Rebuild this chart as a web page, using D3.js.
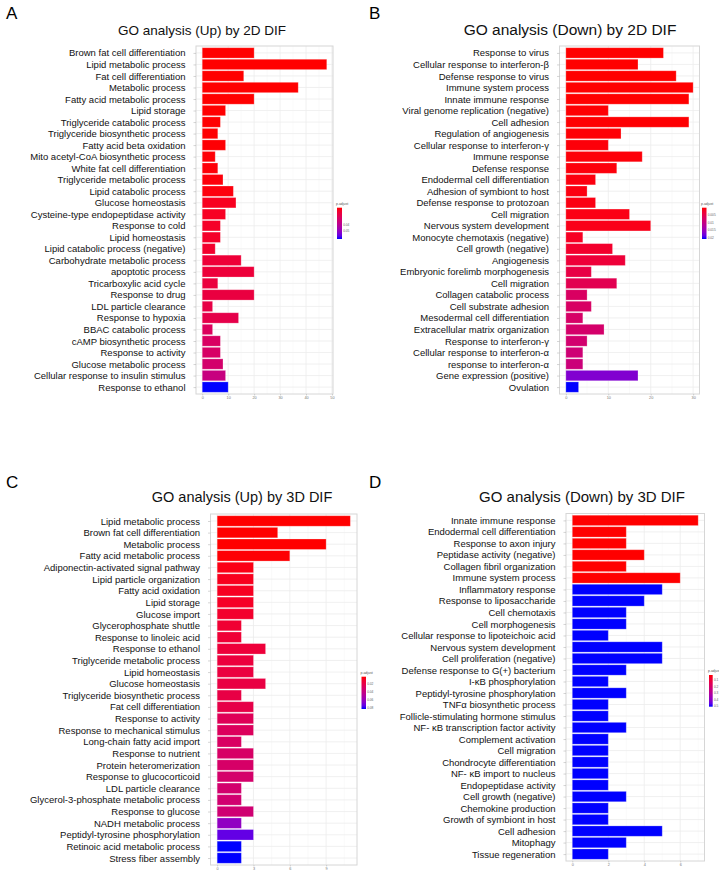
<!DOCTYPE html>
<html>
<head>
<meta charset="utf-8">
<script src="https://cdn.jsdelivr.net/npm/d3@7"></script>
<style>
  body { margin: 0; background: #fff; }
  svg { font-family: "Liberation Sans", Arial, sans-serif; }
</style>
</head>
<body>
<div id="canvas"></div>
<script>
// ---- data ----
const termsA = ["Brown fat cell differentiation", "Lipid metabolic process", "Fat cell differentiation", "Metabolic process",
  "Fatty acid metabolic process", "Lipid storage", "Triglyceride catabolic process", "Triglyceride biosynthetic process",
  "Fatty acid beta oxidation", "Mito acetyl-CoA biosynthetic process", "White fat cell differentiation",
  "Triglyceride metabolic process", "Lipid catabolic process", "Glucose homeostasis", "Cysteine-type endopeptidase activity",
  "Response to cold", "Lipid homeostasis", "Lipid catabolic process (negative)", "Carbohydrate metabolic process",
  "apoptotic process", "Tricarboxylic acid cycle", "Response to drug", "LDL particle clearance", "Response to hypoxia",
  "BBAC catabolic process", "cAMP biosynthetic process", "Response to activity", "Glucose metabolic process",
  "Cellular response to insulin stimulus", "Response to ethanol"];
const countsA = [20, 48, 16, 37, 20, 9, 7, 6, 9, 5, 6, 8, 12, 13, 9, 7, 7, 5, 15, 20, 6, 20, 4, 14, 4, 7, 7, 8, 9, 10];
const padjA = [0.0070, 0.0070, 0.0070, 0.0070, 0.0070, 0.0071, 0.0072, 0.0073, 0.0074, 0.0076, 0.0078, 0.0080, 0.0083,
  0.0110, 0.0115, 0.0125, 0.0130, 0.0135, 0.0160, 0.0165, 0.0175, 0.0180, 0.0195, 0.0205, 0.0250, 0.0265, 0.0275,
  0.0290, 0.0340, 0.0660];
const legendTicksA = [0.04, 0.05];

const termsB = ["Response to virus", "Cellular response to interferon-β", "Defense response to virus", "Immune system process",
  "Innate immune response", "Viral genome replication (negative)", "Cell adhesion", "Regulation of angiogenesis",
  "Cellular response to interferon-γ", "Immune response", "Defense response", "Endodermal cell differentiation",
  "Adhesion of symbiont to host", "Defense response to protozoan", "Cell migration ", "Nervous system development",
  "Monocyte chemotaxis (negative)", "Cell growth (negative)", "Angiogenesis", "Embryonic forelimb morphogenesis",
  "Cell migration", "Collagen catabolic process", "Cell substrate adhesion", "Mesodermal cell differentiation",
  "Extracellular matrix organization", "Response to interferon-γ", "Cellular response to interferon-α",
  "response to interferon-α", "Gene expression (positive)", "Ovulation"];
const countsB = [23, 17, 26, 30, 29, 10, 29, 13, 10, 18, 12, 7, 5, 7, 15, 20, 4, 11, 14, 6, 12, 5, 6, 4, 9, 5, 4, 4, 17, 3];
const padjB = [0.0002, 0.0002, 0.0002, 0.0002, 0.0002, 0.0003, 0.0003, 0.0004, 0.0005, 0.0005, 0.0006, 0.0007, 0.0008,
  0.0009, 0.0010, 0.0012, 0.0018, 0.0025, 0.0035, 0.0045, 0.0055, 0.0070, 0.0072, 0.0075, 0.0078, 0.0082, 0.0088,
  0.0092, 0.0170, 0.0210];
const legendTicksB = [0.005, 0.010, 0.015, 0.020];

const termsC = ["Lipid metabolic process", "Brown fat cell differentiation", "Metabolic process", "Fatty acid metabolic process",
  "Adiponectin-activated signal pathway", "Lipid particle organization", "Fatty acid oxidation", "Lipid storage",
  "Glucose import", "Glycerophosphate shuttle", "Response to linoleic acid", "Response to ethanol",
  "Triglyceride metabolic process", "Lipid homeostasis", "Glucose homeostasis", "Triglyceride biosynthetic process",
  "Fat cell differentiation", "Response to activity", "Response to mechanical stimulus", "Long-chain fatty acid import",
  "Response to nutrient", "Protein heteromerization", "Response to glucocorticoid", "LDL particle clearance",
  "Glycerol-3-phosphate metabolic process", "Response to glucose", "NADH metabolic process",
  "Peptidyl-tyrosine phosphorylation", "Retinoic acid metabolic process", "Stress fiber assembly"];
const countsC = [11, 5, 9, 6, 3, 3, 3, 3, 3, 2, 2, 4, 3, 3, 4, 2, 3, 3, 3, 2, 3, 3, 3, 2, 2, 3, 2, 3, 2, 2];
const padjC = [0.0020, 0.0020, 0.0020, 0.0025, 0.0050, 0.0070, 0.0080, 0.0090, 0.0110, 0.0130, 0.0140, 0.0150, 0.0160,
  0.0170, 0.0180, 0.0190, 0.0200, 0.0250, 0.0270, 0.0290, 0.0300, 0.0310, 0.0320, 0.0330, 0.0340, 0.0350, 0.0630,
  0.0750, 0.0836, 0.0836];
const legendTicksC = [0.02, 0.04, 0.06, 0.08];

const termsD = ["Innate immune response", "Endodermal cell differentiation", "Response to axon injury",
  "Peptidase activity (negative)", "Collagen fibril organization", "Immune system process", "Inflammatory response",
  "Response to liposaccharide", "Cell chemotaxis", "Cell morphogenesis", "Cellular response to lipoteichoic acid",
  "Nervous system development", "Cell proliferation (negative)", "Defense response to G(+) bacterium",
  "I-κB phosphorylation", "Peptidyl-tyrosine phosphorylation", "TNFα biosynthetic process",
  "Follicle-stimulating hormone stimulus", "NF- κB transcription factor activity", "Complement activation",
  "Cell migration", "Chondrocyte differentiation", "NF- κB import to nucleus", "Endopeptidase activity",
  "Cell growth (negative)", "Chemokine production", "Growth of symbiont in host", "Cell adhesion", "Mitophagy",
  "Tissue regeneration"];
const countsD = [7, 3, 3, 4, 3, 6, 5, 4, 3, 3, 2, 5, 5, 3, 2, 3, 2, 2, 3, 2, 2, 2, 2, 2, 3, 2, 2, 5, 3, 2];
const padjD = [0.02, 0.02, 0.02, 0.02, 0.02, 0.02, 0.51, 0.51, 0.51, 0.51, 0.51, 0.51, 0.51,
  0.51, 0.51, 0.51, 0.51, 0.51, 0.51, 0.51, 0.51, 0.51, 0.51, 0.51, 0.51, 0.51, 0.51, 0.51, 0.51, 0.51];
const legendTicksD = [0.1, 0.2, 0.3, 0.4, 0.5];

// ---- layout ----
const panels = [
  { letter: "A", title: "GO analysis (Up) by 2D DIF", terms: termsA, counts: countsA, padj: padjA, ticks: [0, 10, 20, 30, 40, 50],
    legendTicks: legendTicksA, box: { left: 196, right: 333, top: 46, bottom: 394 }, titleX: 202, titleY: 35, titleSize: 13.5,
    letterX: 6, letterY: 19, legend: { x: 337, y: 207.7, w: 5, h: 31.3 } },
  { letter: "B", title: "GO analysis (Down) by 2D DIF", terms: termsB, counts: countsB, padj: padjB, ticks: [0, 10, 20, 30],
    legendTicks: legendTicksB, box: { left: 559.5, right: 699.5, top: 46, bottom: 394 }, titleX: 570, titleY: 35, titleSize: 15.5,
    letterX: 369, letterY: 19, legend: { x: 702, y: 207.7, w: 4.5, h: 31.3 } },
  { letter: "C", title: "GO analysis (Up) by 3D DIF", terms: termsC, counts: countsC, padj: padjC, ticks: [0, 3, 6, 9],
    legendTicks: legendTicksC, box: { left: 210.5, right: 357, top: 514, bottom: 865 }, titleX: 242, titleY: 502, titleSize: 14.5,
    letterX: 6, letterY: 488, legend: { x: 361.5, y: 676.7, w: 4.5, h: 32.3 } },
  { letter: "D", title: "GO analysis (Down) by 3D DIF", terms: termsD, counts: countsD, padj: padjD, ticks: [0, 2, 4, 6],
    legendTicks: legendTicksD, box: { left: 566, right: 704.5, top: 513.5, bottom: 861 }, titleX: 582, titleY: 502, titleSize: 15,
    letterX: 369, letterY: 488, legend: { x: 709, y: 675, w: 3.7, h: 31.7 } }
];

const width = 719, height = 872;
const svg = d3.select("#canvas").append("svg").attr("width", width).attr("height", height);

panels.forEach((p, pi) => {
  const g = svg.append("g");
  const b = p.box;
  const maxC = d3.max(p.counts);

  const x = d3.scaleLinear().domain([-0.05 * maxC, 1.05 * maxC]).range([b.left, b.right]);
  const y = d3.scalePoint().domain(p.terms.map((t, i) => i)).range([b.top, b.bottom]).padding(0.6);
  const bh = y.step() * 0.9;
  const col = d3.scaleLinear().domain(d3.extent(p.padj)).range(["red", "blue"]).interpolate(d3.interpolateLab);

  // panel letter + title
  g.append("text").attr("x", p.letterX).attr("y", p.letterY).attr("font-size", 17).attr("fill", "#000").text(p.letter);
  g.append("text").attr("x", p.titleX).attr("y", p.titleY).attr("text-anchor", "middle").attr("font-size", p.titleSize).attr("fill", "#111").text(p.title);

  // grid
  const tstep = p.ticks[1] - p.ticks[0];
  const minorT = d3.range(tstep / 2, x.domain()[1], tstep);
  g.append("g").selectAll("line").data(minorT).join("line")
    .attr("x1", d => x(d)).attr("x2", d => x(d)).attr("y1", b.top).attr("y2", b.bottom)
    .attr("stroke", "#f4f4f4").attr("stroke-width", 0.5);
  g.append("g").selectAll("line").data(p.ticks).join("line")
    .attr("x1", d => x(d)).attr("x2", d => x(d)).attr("y1", b.top).attr("y2", b.bottom)
    .attr("stroke", "#ececec").attr("stroke-width", 0.8);
  g.append("g").selectAll("line").data(p.terms.map((t, i) => i)).join("line")
    .attr("x1", b.left).attr("x2", b.right).attr("y1", d => y(d)).attr("y2", d => y(d))
    .attr("stroke", "#ececec").attr("stroke-width", 0.8);

  // bars
  g.append("g").selectAll("rect").data(p.counts).join("rect")
    .attr("x", x(0)).attr("y", (d, i) => y(i) - bh / 2)
    .attr("width", d => x(d) - x(0)).attr("height", bh)
    .attr("fill", (d, i) => col(p.padj[i]))
    .attr("stroke", "#fff").attr("stroke-opacity", 0.3).attr("stroke-width", 0.8);

  // border
  g.append("rect").attr("x", b.left).attr("y", b.top).attr("width", b.right - b.left).attr("height", b.bottom - b.top)
    .attr("fill", "none").attr("stroke", "#d6d6d6").attr("stroke-width", 1);

  // y axis
  const ya = g.append("g").attr("transform", `translate(${b.left},0)`)
    .call(d3.axisLeft(y).tickSize(2.5).tickPadding(8).tickFormat(i => p.terms[i]));
  ya.select(".domain").remove();
  ya.selectAll(".tick line").attr("stroke", "#aaa").attr("stroke-width", 0.5);
  ya.selectAll(".tick text").attr("font-size", 9.5).attr("fill", "#111").attr("font-family", null);

  // x axis
  const xa = g.append("g").attr("transform", `translate(0,${b.bottom})`)
    .call(d3.axisBottom(x).tickValues(p.ticks).tickSize(1.5).tickPadding(1.2));
  xa.select(".domain").remove();
  xa.selectAll(".tick line").attr("stroke", "#aaa").attr("stroke-width", 0.5);
  xa.selectAll(".tick text").attr("font-size", 3.8).attr("fill", "#777").attr("font-family", null);

  // legend
  const L = p.legend;
  const gid = "grad" + pi;
  const grad = svg.append("defs").append("linearGradient").attr("id", gid).attr("x1", 0).attr("x2", 0).attr("y1", 0).attr("y2", 1);
  d3.range(0, 1.0001, 0.1).forEach(t => grad.append("stop").attr("offset", t).attr("stop-color", d3.interpolateLab("red", "blue")(t)));
  g.append("text").attr("x", L.x - 1).attr("y", L.y - 3).attr("font-size", 3.5).attr("fill", "#555").text("p.adjust");
  g.append("rect").attr("x", L.x).attr("y", L.y).attr("width", L.w).attr("height", L.h).attr("fill", `url(#${gid})`);
  const ly = d3.scaleLinear().domain(d3.extent(p.padj)).range([L.y, L.y + L.h]);
  g.append("g").selectAll("text").data(p.legendTicks).join("text")
    .attr("x", L.x + L.w + 1.2).attr("y", d => ly(d) + 1.2).attr("font-size", 3.2).attr("fill", "#666")
    .text(d => d3.format(".3~f")(d));
});
</script>
</body>
</html>
